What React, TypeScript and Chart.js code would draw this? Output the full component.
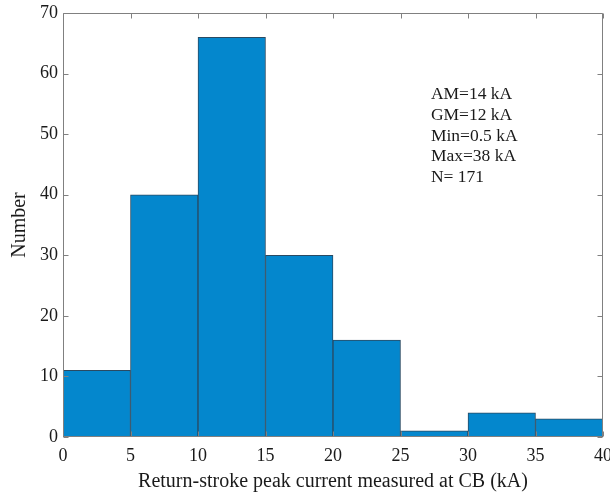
import React, { useEffect, useRef } from 'react';
import { Chart, registerables } from 'chart.js';

Chart.register(...registerables);

// ---- data ----
const binStarts = [0, 5, 10, 15, 20, 25, 30, 35];
const binWidth = 5;
const counts = [11, 40, 66, 30, 16, 1, 4, 3];
const xTickValues = [0, 5, 10, 15, 20, 25, 30, 35, 40];
const yTickValues = [0, 10, 20, 30, 40, 50, 60, 70];
const statsLines = ['AM=14 kA', 'GM=12 kA', 'Min=0.5 kA', 'Max=38 kA', 'N= 171'];
const xTitle = 'Return-stroke peak current measured at CB (kA)';
const yTitle = 'Number';

// ---- styles ----
const FONT = '"Liberation Serif", "Times New Roman", serif';
const barFill = '#0487CD';
const barEdge = '#2A4A62';
const axisColor = '#808080';
const textColor = '#1a1a1a';
const statsX = 27.25;
const statsY = 55.75;
const statsLineHeight = 20.7;

const boxPlugin = {
  id: 'matlabBox',
  afterDatasetsDraw(chart: any) {
    const { ctx, chartArea: a, scales } = chart;
    const xs = scales.x;
    const ys = scales.y;
    const L = Math.round(a.left) + 0.5;
    const R = Math.round(a.right) - 0.5;
    const T = Math.round(a.top) + 0.5;
    const B = Math.round(a.bottom) - 0.5;
    ctx.save();
    ctx.strokeStyle = axisColor;
    ctx.lineWidth = 1;
    ctx.beginPath();
    ctx.moveTo(L, T);
    ctx.lineTo(R, T);
    ctx.lineTo(R, B);
    ctx.lineTo(L, B);
    ctx.closePath();
    ctx.stroke();
    const tl = 5;
    ctx.beginPath();
    xs.ticks.forEach((t: any) => {
      const px = Math.round(xs.getPixelForValue(t.value)) + 0.5;
      ctx.moveTo(px, B);
      ctx.lineTo(px, B - tl);
      ctx.moveTo(px, T);
      ctx.lineTo(px, T + tl);
    });
    ys.ticks.forEach((t: any) => {
      const py = Math.round(ys.getPixelForValue(t.value)) + 0.5;
      ctx.moveTo(L, py);
      ctx.lineTo(L + tl, py);
      ctx.moveTo(R, py);
      ctx.lineTo(R - tl, py);
    });
    ctx.stroke();

    // stats annotation
    ctx.fillStyle = textColor;
    ctx.font = `17.5px ${FONT}`;
    ctx.textAlign = 'left';
    ctx.textBaseline = 'alphabetic';
    const sx = xs.getPixelForValue(statsX);
    const sy = ys.getPixelForValue(statsY);
    statsLines.forEach((s, i) => {
      ctx.fillText(s, sx, sy + i * statsLineHeight);
    });

    // axis titles
    ctx.font = `20px ${FONT}`;
    ctx.textAlign = 'center';
    ctx.fillText(xTitle, (a.left + a.right) / 2, 487);
    ctx.translate(25, (a.top + a.bottom) / 2);
    ctx.rotate(-Math.PI / 2);
    ctx.fillText(yTitle, 0, 0);
    ctx.restore();
  },
};

export default function App() {
  const canvasRef = useRef<HTMLCanvasElement | null>(null);

  useEffect(() => {
    const canvas = canvasRef.current;
    if (!canvas) return;
    const chart = new Chart(canvas, {
      type: 'bar',
      data: {
        datasets: [
          {
            data: counts.map((c, i) => ({ x: binStarts[i] + binWidth / 2, y: c })),
            backgroundColor: barFill,
            borderColor: barEdge,
            borderWidth: 1,
            borderSkipped: false,
            barPercentage: 1,
            categoryPercentage: 1,
          },
        ],
      },
      options: {
        animation: false,
        responsive: false,
        events: [],
        layout: { padding: { left: 0, top: 13, right: 7, bottom: 0 } },
        plugins: {
          legend: { display: false },
          tooltip: { enabled: false },
          title: { display: false },
        },
        scales: {
          x: {
            type: 'linear',
            offset: false,
            min: 0,
            max: 40,
            afterBuildTicks: (scale: any) => {
              scale.ticks = xTickValues.map((v) => ({ value: v }));
            },
            afterFit: (scale: any) => {
              scale.height = 58;
              scale.paddingLeft = 0;
              scale.paddingRight = 0;
            },
            grid: { display: false, drawTicks: false },
            border: { display: false },
            ticks: {
              padding: 8,
              maxRotation: 0,
              autoSkip: false,
              color: textColor,
              font: { family: FONT, size: 18 },
              callback: (v: any) => String(v),
            },
          },
          y: {
            type: 'linear',
            min: 0,
            max: 70,
            afterBuildTicks: (scale: any) => {
              scale.ticks = yTickValues.map((v) => ({ value: v }));
            },
            afterFit: (scale: any) => {
              scale.width = 63;
              scale.paddingTop = 0;
              scale.paddingBottom = 0;
            },
            grid: { display: false, drawTicks: false },
            border: { display: false },
            ticks: {
              padding: 5,
              autoSkip: false,
              color: textColor,
              font: { family: FONT, size: 18 },
              callback: (v: any) => String(v),
            },
          },
        },
      },
      plugins: [boxPlugin],
    });
    return () => chart.destroy();
  }, []);

  return (
    <div style={{ position: 'absolute', left: 0, top: 0, width: 610, height: 495, background: '#fff' }}>
      <canvas ref={canvasRef} width={610} height={495} style={{ display: 'block' }} />
    </div>
  );
}
